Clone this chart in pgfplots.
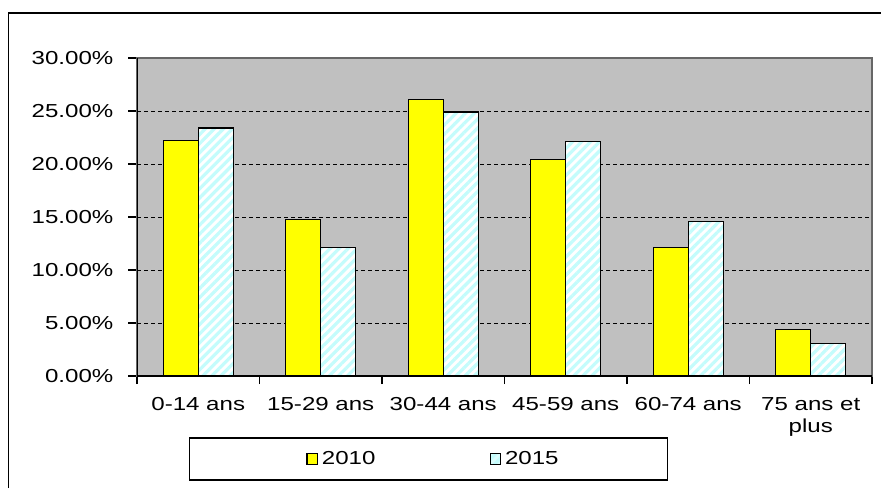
\documentclass[border=0pt]{standalone}
\usepackage{pgfplots}
\pgfplotsset{compat=1.18}
\usepackage{fontspec}
\setmainfont[FakeStretch=1.28]{Liberation Sans}
\usetikzlibrary{patterns.meta}
\definecolor{plotbg}{RGB}{192,192,192}
\definecolor{barY}{RGB}{255,255,0}
\definecolor{stripe}{RGB}{196,252,252}
\begin{document}
\fontsize{9.4pt}{11pt}\selectfont
\begin{tikzpicture}
\useasboundingbox (0,0) rectangle (440.5pt,244pt);
\draw[line width=0.6pt] (4.3pt,0) -- (4.3pt,237.5pt) -- (440.5pt,237.5pt);
\begin{axis}[
  at={(68.5pt,56pt)}, anchor=south west,
  scale only axis, width=367.5pt, height=159pt,
  xmin=-0.5, xmax=5.5, ymin=0, ymax=30,
  axis background/.style={fill=plotbg},
  axis line style={draw=gray!80!black, line width=0.6pt},
  ybar=0pt, bar width=17.5pt,
  tick pos=left,
  xtick={0,1,2,3,4,5},
  xticklabels={0-14 ans,15-29 ans,30-44 ans,45-59 ans,60-74 ans,{75 ans et\\plus}},
  xticklabel style={align=center, yshift=-3pt},
  x tick style={draw=none},
  minor xtick={-0.5,0.5,1.5,2.5,3.5,4.5,5.5},
  minor x tick style={draw=black, line width=0.6pt},
  minor tick length=4pt,
  ytick={0,5,...,30},
  y tick style={draw=black, line width=0.6pt},
  major tick length=4.5pt,
  tick align=outside,
  yticklabel={\pgfmathprintnumber[fixed,fixed zerofill,precision=2]{\tick}\%},
  yticklabel style={xshift=-4pt},
  /pgf/number format/assume math mode=true,
  ymajorgrids,
  grid style={black, line width=0.5pt, dash pattern=on 2pt off 1.5pt},
  tick label style={font=\fontsize{9.4pt}{11pt}\selectfont},
  legend columns=2,
  legend style={at={(0.3966,-0.261)}, anchor=center, draw=black, line width=0.6pt,
    inner xsep=52.5pt, inner ysep=4.5pt,
    /tikz/every even column/.append style={column sep=55pt},
    font=\fontsize{9.4pt}{11pt}\selectfont},
]
\addplot[draw=black, line width=0.6pt, fill=barY,
  legend image code/.code={\path (-6pt,0pt); \draw[black, line width=0.6pt, fill=barY] (0pt,-2.6pt) rectangle (5.2pt,2.6pt);}]
  coordinates {(0,22.2) (1,14.8) (2,26.1) (3,20.4) (4,12.1) (5,4.4)};
\addlegendentry{2010}
\addplot[draw=black, line width=0.6pt, fill=white,
  postaction={pattern={Lines[angle=45,distance=3.2pt,line width=1.6pt]}, pattern color=stripe},
  legend image code/.code={\draw[black, line width=0.6pt, fill=stripe!60!white] (0pt,-2.6pt) rectangle (5.2pt,2.6pt);}]
  coordinates {(0,23.4) (1,12.1) (2,24.9) (3,22.1) (4,14.6) (5,3.1)};
\addlegendentry{2015}
\draw[black, line width=0.6pt] (rel axis cs:0,1) -- (rel axis cs:0,0) -- (rel axis cs:1,0);
\end{axis}
\end{tikzpicture}
\end{document}
